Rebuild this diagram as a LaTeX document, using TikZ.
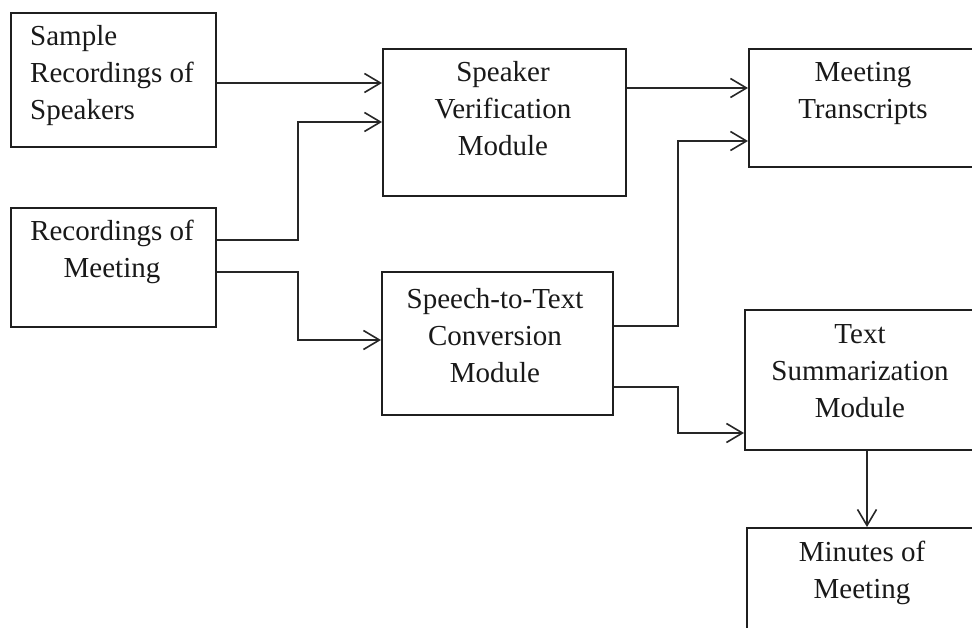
\documentclass[tikz,border=0pt]{standalone}
\usepackage{fontspec}
\setmainfont{Liberation Serif}
\usetikzlibrary{arrows.meta}
\begin{document}
\begin{tikzpicture}[x=1pt,y=-1pt,
  box/.style={draw=black!88,line width=1.7pt,inner sep=0pt,anchor=north west},
  lbl/.style={inner sep=0pt,font=\fontsize{29}{37}\selectfont,text=black!90},
  arr/.style={draw=black!85,line width=1.6pt,-{Straight Barb[length=16pt,width=19pt,line width=1.6pt]}}]
\useasboundingbox (0,0) rectangle (972,628);
\clip (0,0) rectangle (972,628);
% boxes
\node[box,minimum width=205pt,minimum height=134pt] (a) at (10,12) {};
\node[box,minimum width=205pt,minimum height=119pt] (b) at (10,207) {};
\node[box,minimum width=243pt,minimum height=147pt] (c) at (382,48) {};
\node[box,minimum width=231pt,minimum height=143pt] (d) at (381,271) {};
\node[box,minimum width=230pt,minimum height=118pt] (e) at (748,48) {};
\node[box,minimum width=234pt,minimum height=140pt] (f) at (744,309) {};
\node[box,minimum width=232pt,minimum height=130pt] (g) at (746,527) {};
% labels
\node[lbl,align=left,anchor=west] (ta) at (30,76) {Sample\\Recordings of\\Speakers};
\node[lbl,align=center] (tb) at (112,252) {Recordings of\\Meeting};
\node[lbl,align=center] (tc) at (503,109) {Speaker\\Verification\\Module};
\node[lbl,align=center] (td) at (495,336) {Speech-to-Text\\Conversion\\Module};
\node[lbl,align=center] (te) at (863,93) {Meeting\\Transcripts};
\node[lbl,align=center] (tf) at (860,371) {Text\\Summarization\\Module};
\node[lbl,align=center] (tg) at (862,573) {Minutes of\\Meeting};
% bend points
\coordinate (ac) at (300,83);
\coordinate (b1) at (298,240);
\coordinate (b2) at (298,122);
\coordinate (b3) at (298,272);
\coordinate (b4) at (298,340);
\coordinate (ce) at (690,88);
\coordinate (d1) at (678,326);
\coordinate (d2) at (678,141);
\coordinate (d3) at (678,387);
\coordinate (d4) at (678,433);
\coordinate (fx) at (867,490);
% connectors
\draw[arr] (a.east |- ac) -- (c.west |- ac);
\draw[arr] (b.east |- b1) -- (b1) -- (b2) -- (c.west |- b2);
\draw[arr] (b.east |- b3) -- (b3) -- (b4) -- (d.west |- b4);
\draw[arr] (c.east |- ce) -- (e.west |- ce);
\draw[arr] (d.east |- d1) -- (d1) -- (d2) -- (e.west |- d2);
\draw[arr] (d.east |- d3) -- (d3) -- (d4) -- (f.west |- d4);
\draw[arr] (f.south -| fx) -- (g.north -| fx);
\end{tikzpicture}
\end{document}
